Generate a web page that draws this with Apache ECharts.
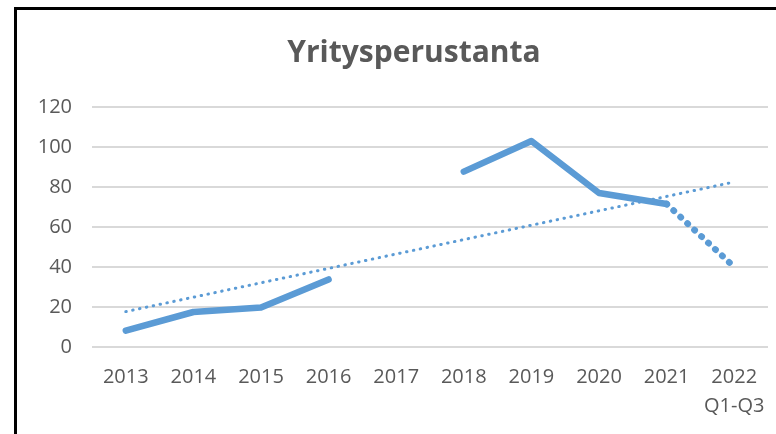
<!DOCTYPE html>
<html><head><meta charset="utf-8">
<script src="https://cdn.jsdelivr.net/npm/echarts@6/dist/echarts.min.js"></script>
<style>html,body{margin:0;padding:0;background:#fff}#c{width:776px;height:434px}</style>
</head><body><div id="c"></div>
<script>
const categories = ['2013','2014','2015','2016','2017','2018','2019','2020','2021','2022\nQ1-Q3'];
const actual = [8.2, 17.5, 19.8, 33.8, null, 87.7, 103, 77, 71.5, null];
const partial = [null, null, null, null, null, null, null, null, 71.5, 40];
const trend = [17.7, null, null, null, null, null, null, null, null, 82.5];
const yTicks = [0, 20, 40, 60, 80, 100, 120];

const font = 'Open Sans';
const chart = echarts.init(document.getElementById('c'), null, {renderer: 'canvas'});
chart.setOption({
  animation: false,
  backgroundColor: '#ffffff',
  title: {
    text: 'Yritysperustanta', left: 409, top: 33, textAlign: 'center',
    textStyle: {fontFamily: font, fontSize: 30, fontWeight: 'bold', color: '#595959'}
  },
  graphic: [
    {type: 'line', shape: {x1: 14, y1: 8.5, x2: 776, y2: 8.5}, style: {stroke: '#000', lineWidth: 3}},
    {type: 'line', shape: {x1: 15.5, y1: 7, x2: 15.5, y2: 434}, style: {stroke: '#000', lineWidth: 3}}
  ],
  grid: {left: 92, right: 8, top: 107, bottom: 87},
  xAxis: {
    type: 'category', data: categories, boundaryGap: true,
    axisLine: {show: false}, axisTick: {show: false},
    axisLabel: {fontFamily: font, fontSize: 20, color: '#595959', margin: 16, lineHeight: 29, interval: 0}
  },
  yAxis: {
    type: 'value', min: yTicks[0], max: yTicks[yTicks.length - 1], interval: 20,
    axisLine: {show: false}, axisTick: {show: false},
    axisLabel: {fontFamily: font, fontSize: 20, color: '#595959', margin: 20},
    splitLine: {lineStyle: {color: '#d9d9d9', width: 2}}
  },
  series: [
    {type: 'line', data: trend, connectNulls: true, symbol: 'none', z: 1,
     lineStyle: {color: '#5b9bd5', width: 3, type: [0.5, 6.5], cap: 'round'}},
    {type: 'line', data: actual, connectNulls: false, symbol: 'none', z: 3,
     lineStyle: {color: '#5b9bd5', width: 6.5, cap: 'round', join: 'round'}},
    {type: 'line', data: partial, symbol: 'none', z: 2,
     lineStyle: {color: '#5b9bd5', width: 6.5, type: [0.5, 9], cap: 'round'}}
  ]
});
</script></body></html>
